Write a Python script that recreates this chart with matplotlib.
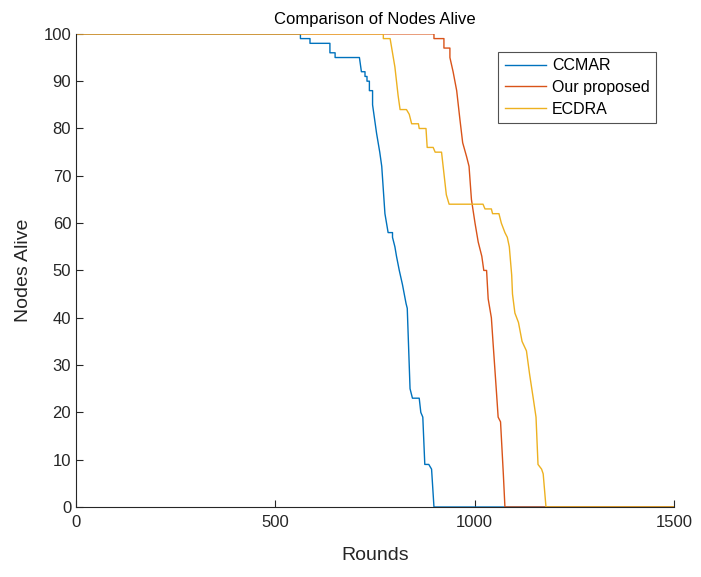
import matplotlib.pyplot as plt
import numpy as np

# Nodes alive per round
ccmar_rounds = [0, 563, 563, 587, 587, 637, 637, 650, 650, 711, 716, 725, 725, 730, 730, 736, 736, 744, 744,
                754, 762, 767, 775, 779, 783, 794, 794, 800, 804, 811, 819, 828, 831, 838, 844, 861, 865, 870,
                875, 885, 892, 898, 1500]
ccmar_alive = [100, 100, 99, 99, 98, 98, 96, 96, 95, 95, 92, 92, 91, 91, 90, 90, 88, 88, 85,
               79, 75, 72, 62, 60, 58, 58, 57, 55, 53, 50, 47, 43, 42, 25, 23, 23, 20, 19,
               9, 9, 8, 0, 0]

ours_rounds = [0, 898, 898, 923, 923, 938, 938, 946, 955, 963, 970, 980, 986, 992, 1001, 1009, 1018, 1023,
               1030, 1034, 1042, 1046, 1055, 1059, 1065, 1072, 1076, 1500]
ours_alive = [100, 100, 99, 99, 97, 97, 95, 92, 88, 82, 77, 74, 72, 65, 60, 56, 53, 50,
              50, 44, 40, 35, 24, 19, 18, 7, 0, 0]

ecdra_rounds = [0, 771, 771, 788, 800, 808, 813, 829, 836, 842, 859, 861, 878, 881, 896, 901, 917, 921, 929,
                936, 1021, 1026, 1042, 1045, 1061, 1067, 1076, 1082, 1087, 1093, 1095, 1101, 1110, 1119, 1130,
                1138, 1147, 1154, 1159, 1168, 1172, 1179, 1500]
ecdra_alive = [100, 100, 99, 99, 93, 87, 84, 84, 83, 81, 81, 80, 80, 76, 76, 75, 75, 72, 66,
               64, 64, 63, 63, 62, 62, 60, 58, 57, 55, 49, 45, 41, 39, 35, 33,
               28, 23, 19, 9, 8, 7, 0, 0]

plt.rcParams['font.family'] = ['Liberation Sans', 'DejaVu Sans']

fig = plt.figure(figsize=(7.01, 5.77), dpi=100)
ax = fig.add_axes([0.1084, 0.1213, 0.853, 0.820])

ax.plot(ccmar_rounds, ccmar_alive, color='#0072BD', lw=1.0, label='CCMAR')
ax.plot(ours_rounds, ours_alive, color='#D95319', lw=1.0, label='Our proposed')
ax.plot(ecdra_rounds, ecdra_alive, color='#EDB120', lw=1.0, label='ECDRA')

ax.set_xlim(0, 1500)
ax.set_ylim(0, 100)
ax.set_xticks(np.arange(0, 1501, 500))
ax.set_yticks(np.arange(0, 101, 10))
ax.tick_params(direction='in', labelsize=12, colors='#262626', length=5)
ax.tick_params(axis='x', pad=6)

# matlab style: box off
ax.spines['top'].set_visible(False)
ax.spines['right'].set_visible(False)
for s in ['left', 'bottom']:
    ax.spines[s].set_color('#262626')

ax.set_xlabel('Rounds', fontsize=14, color='#262626', labelpad=12)
ax.set_ylabel('Nodes Alive', fontsize=14, color='#262626', labelpad=8)
ax.set_title('Comparison of Nodes Alive', fontsize=12, color='black', pad=7)

leg = ax.legend(loc='upper right', bbox_to_anchor=(0.936, 0.9099), bbox_transform=fig.transFigure,
                borderaxespad=0, fontsize=11.5, frameon=True, fancybox=False, edgecolor='#262626',
                borderpad=0.4, handlelength=2.6, handletextpad=0.35, labelspacing=0.42)
leg.get_frame().set_linewidth(0.8)

fig.savefig('out.png', dpi=100)
